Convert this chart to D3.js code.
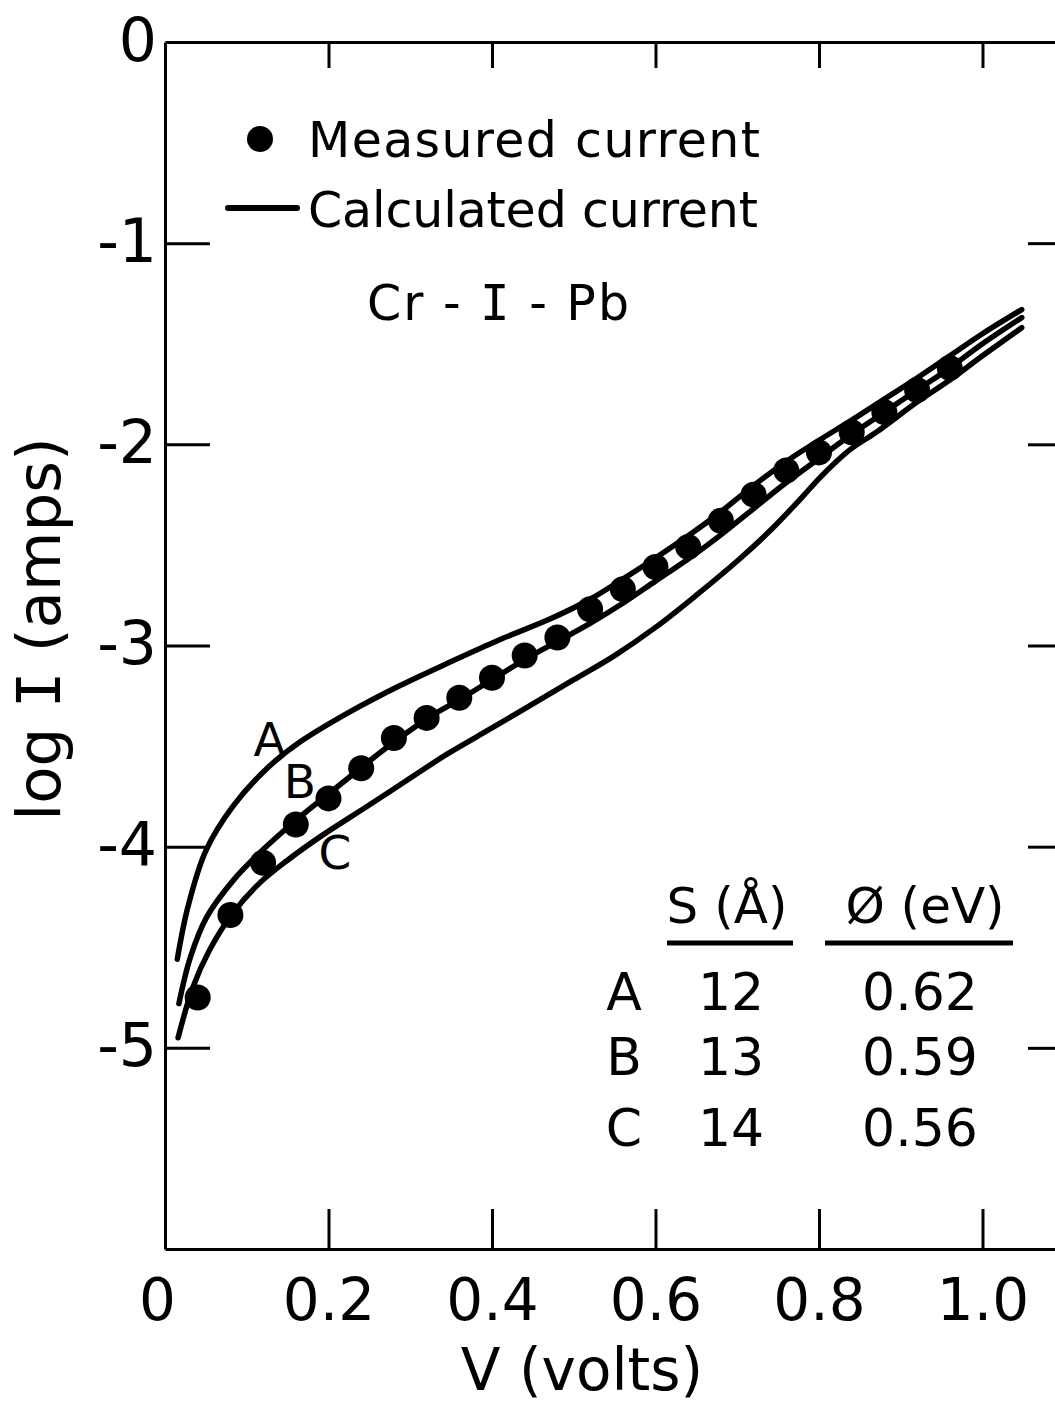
<!DOCTYPE html>
<html>
<head>
<meta charset="utf-8">
<script src="https://cdn.jsdelivr.net/npm/d3@7"></script>
<style>
  html, body { margin: 0; padding: 0; background: #fff; }
  #chart { width: 1055px; height: 1407px; }
  text { font-family: "DejaVu Sans", sans-serif; fill: #000; }
  .barI { font-family: "DejaVu Sans Mono", monospace; }
</style>
</head>
<body>
<div id="chart"></div>
<script>
// Measured current (dots)
const measuredV    = [0.04, 0.08, 0.12, 0.16, 0.20, 0.24, 0.28, 0.32, 0.36, 0.40, 0.44, 0.48,
                      0.52, 0.56, 0.60, 0.64, 0.68, 0.72, 0.76, 0.80, 0.84, 0.88, 0.92, 0.96];
const measuredLogI = [-4.75, -4.34, -4.08, -3.89, -3.76, -3.61, -3.46, -3.36, -3.26, -3.16, -3.05, -2.96,
                      -2.82, -2.72, -2.61, -2.51, -2.38, -2.25, -2.13, -2.04, -1.94, -1.84, -1.73, -1.62];

// Calculated curves [V, log I]
const curveA = [[0.015, -4.56], [0.028, -4.30], [0.05, -4.02], [0.083, -3.80], [0.125, -3.61],
  [0.165, -3.48], [0.226, -3.33], [0.287, -3.20], [0.35, -3.08], [0.41, -2.97], [0.47, -2.87],
  [0.52, -2.77], [0.56, -2.67], [0.60, -2.565], [0.64, -2.455], [0.68, -2.335], [0.72, -2.205],
  [0.76, -2.085], [0.80, -1.98], [0.84, -1.88], [0.88, -1.775], [0.92, -1.67], [0.96, -1.56],
  [1.0, -1.45], [1.048, -1.33]];
const curveB = [[0.017, -4.78], [0.031, -4.55], [0.051, -4.35], [0.083, -4.17], [0.116, -4.03],
  [0.157, -3.88], [0.19, -3.77], [0.23, -3.64], [0.28, -3.48], [0.33, -3.34], [0.36, -3.27],
  [0.40, -3.17], [0.44, -3.07], [0.48, -2.98], [0.52, -2.89], [0.56, -2.79], [0.60, -2.68],
  [0.64, -2.57], [0.68, -2.45], [0.72, -2.32], [0.76, -2.19], [0.80, -2.07], [0.84, -1.95],
  [0.88, -1.84], [0.92, -1.73], [0.96, -1.62], [1.0, -1.50], [1.048, -1.37]];
const curveC = [[0.016, -4.95], [0.034, -4.70], [0.055, -4.51], [0.083, -4.33], [0.116, -4.18],
  [0.149, -4.07], [0.19, -3.95], [0.247, -3.80], [0.296, -3.67], [0.345, -3.54], [0.40, -3.41],
  [0.45, -3.29], [0.50, -3.17], [0.55, -3.05], [0.60, -2.91], [0.65, -2.75], [0.70, -2.58],
  [0.74, -2.43], [0.78, -2.26], [0.80, -2.17], [0.82, -2.09], [0.84, -2.02], [0.87, -1.94],
  [0.92, -1.79], [0.96, -1.68], [1.0, -1.56], [1.048, -1.42]];

// Curve labels
const curveNames = ["A", "B", "C"];
const curveLabelPos = [[0.128, -3.55], [0.165, -3.76], [0.208, -4.11]];

// Axis ticks
const xTicks = [0, 0.2, 0.4, 0.6, 0.8, 1.0];
const yTicks = [0, -1, -2, -3, -4, -5];

// Parameter table
const tableHeaders = ["S (Å)", "Ø  (eV)"];
const tableRows = ["A", "B", "C"];
const tableS = ["12", "13", "14"];
const tablePhi = ["0.62", "0.59", "0.56"];

const width = 1055, height = 1407;

const x = d3.scaleLinear().domain([0, 1.0887]).range([165, 1055]);
const y = d3.scaleLinear().domain([0, -6]).range([42, 1249]);

const svg = d3.select("#chart").append("svg")
  .attr("width", width)
  .attr("height", height)
  .style("display", "block");

svg.append("rect").attr("width", width).attr("height", height).attr("fill", "#fff");

// Axes
function styleAxis(g, fontSize) {
  g.attr("font-family", null).attr("font-size", null);
  g.select(".domain").attr("stroke", "#000").attr("stroke-width", 3);
  g.selectAll(".tick line").attr("stroke", "#000").attr("stroke-width", 3);
  g.selectAll(".tick text").style("font-size", fontSize + "px");
}

const fmtX = d => d === 0 ? "0" : d3.format(".1f")(d);

const xAxis = svg.append("g")
  .attr("transform", `translate(0,${y(-6)})`)
  .call(d3.axisBottom(x).tickValues(xTicks).tickFormat(fmtX)
    .tickSizeInner(-40).tickSizeOuter(0).tickPadding(30));
styleAxis(xAxis, 58);
xAxis.selectAll(".tick").filter(d => d === 0).select("line").remove();
xAxis.selectAll(".tick").filter(d => d === 0).select("text").attr("dx", -8);

svg.append("g")
  .attr("transform", `translate(0,${y(0)})`)
  .call(d3.axisTop(x).tickValues(xTicks.slice(1)).tickFormat("")
    .tickSizeInner(-26).tickSizeOuter(0))
  .call(g => styleAxis(g, 10));

const yAxis = svg.append("g")
  .attr("transform", `translate(${x(0)},0)`)
  .call(d3.axisLeft(y).tickValues(yTicks).tickFormat(d => d === 0 ? "0" : "-" + Math.abs(d))
    .tickSizeInner(-45).tickSizeOuter(0).tickPadding(8));
styleAxis(yAxis, 60);
yAxis.selectAll(".tick").filter(d => d === 0).select("line").remove();
yAxis.selectAll(".tick text").attr("dy", "0.3em");

svg.append("g")
  .attr("transform", `translate(1059,0)`)
  .call(d3.axisRight(y).tickValues(yTicks.slice(1)).tickFormat("")
    .tickSizeInner(-31).tickSizeOuter(0))
  .call(g => styleAxis(g, 10));

// Axis titles
svg.append("text")
  .attr("x", 582)
  .attr("y", 1390)
  .attr("text-anchor", "middle")
  .style("font-size", "58px")
  .text("V (volts)");

const yTitle = svg.append("text")
  .attr("transform", "translate(60,629) rotate(-90)")
  .attr("text-anchor", "middle")
  .style("font-size", "61px");
yTitle.append("tspan").text("log ");
yTitle.append("tspan").attr("class", "barI").text("I");
yTitle.append("tspan").text(" (amps)");

// Calculated curves
const line = d3.line()
  .x(d => x(d[0]))
  .y(d => y(d[1]))
  .curve(d3.curveCatmullRom.alpha(0.5));

svg.append("g")
  .selectAll("path")
  .data([curveA, curveB, curveC])
  .join("path")
  .attr("d", line)
  .attr("fill", "none")
  .attr("stroke", "#000")
  .attr("stroke-width", 5.5)
  .attr("stroke-linecap", "round");

// Measured points
svg.append("g")
  .selectAll("circle")
  .data(measuredV.map((v, i) => [v, measuredLogI[i]]))
  .join("circle")
  .attr("cx", d => x(d[0]))
  .attr("cy", d => y(d[1]))
  .attr("r", 13)
  .attr("fill", "#000");

// Curve labels
svg.append("g")
  .selectAll("text")
  .data(curveNames)
  .join("text")
  .attr("x", (d, i) => x(curveLabelPos[i][0]))
  .attr("y", (d, i) => y(curveLabelPos[i][1]))
  .attr("text-anchor", "middle")
  .style("font-size", "47px")
  .text(d => d);

// Legend
svg.append("circle")
  .attr("cx", 260).attr("cy", 139).attr("r", 13).attr("fill", "#000");
svg.append("text")
  .attr("x", 308).attr("y", 157)
  .attr("textLength", 452).attr("lengthAdjust", "spacing")
  .style("font-size", "49px")
  .text("Measured current");

svg.append("line")
  .attr("x1", 228).attr("x2", 297).attr("y1", 208).attr("y2", 208)
  .attr("stroke", "#000").attr("stroke-width", 6).attr("stroke-linecap", "round");
svg.append("text")
  .attr("x", 308).attr("y", 227)
  .attr("textLength", 450).attr("lengthAdjust", "spacing")
  .style("font-size", "49px")
  .text("Calculated current");

const sample = svg.append("text")
  .attr("x", 367).attr("y", 320)
  .style("font-size", "49px");
sample.append("tspan").text("Cr - ");
sample.append("tspan").attr("class", "barI").text("I");
sample.append("tspan").text(" - Pb");
sample.attr("textLength", 262).attr("lengthAdjust", "spacing");

// Parameter table
const colX = [624, 731, 920];
const headerX = [[667, 793], [825, 1013]];

svg.append("g")
  .selectAll("text")
  .data(tableHeaders)
  .join("text")
  .attr("x", (d, i) => (headerX[i][0] + headerX[i][1]) / 2 + (i === 1 ? 6 : -3))
  .attr("y", 923)
  .attr("text-anchor", "middle")
  .style("font-size", "50px")
  .text(d => d);

svg.append("g")
  .selectAll("line")
  .data(headerX)
  .join("line")
  .attr("x1", d => d[0]).attr("x2", d => d[1])
  .attr("y1", 943).attr("y2", 943)
  .attr("stroke", "#000").attr("stroke-width", 5);

const rowY = [1010, 1075, 1146];
const tableG = svg.append("g");
tableRows.forEach((r, i) => {
  [r, tableS[i], tablePhi[i]].forEach((t, j) => {
    tableG.append("text")
      .attr("x", colX[j])
      .attr("y", rowY[i])
      .attr("text-anchor", "middle")
      .style("font-size", "52px")
      .text(t);
  });
});
</script>
</body>
</html>
